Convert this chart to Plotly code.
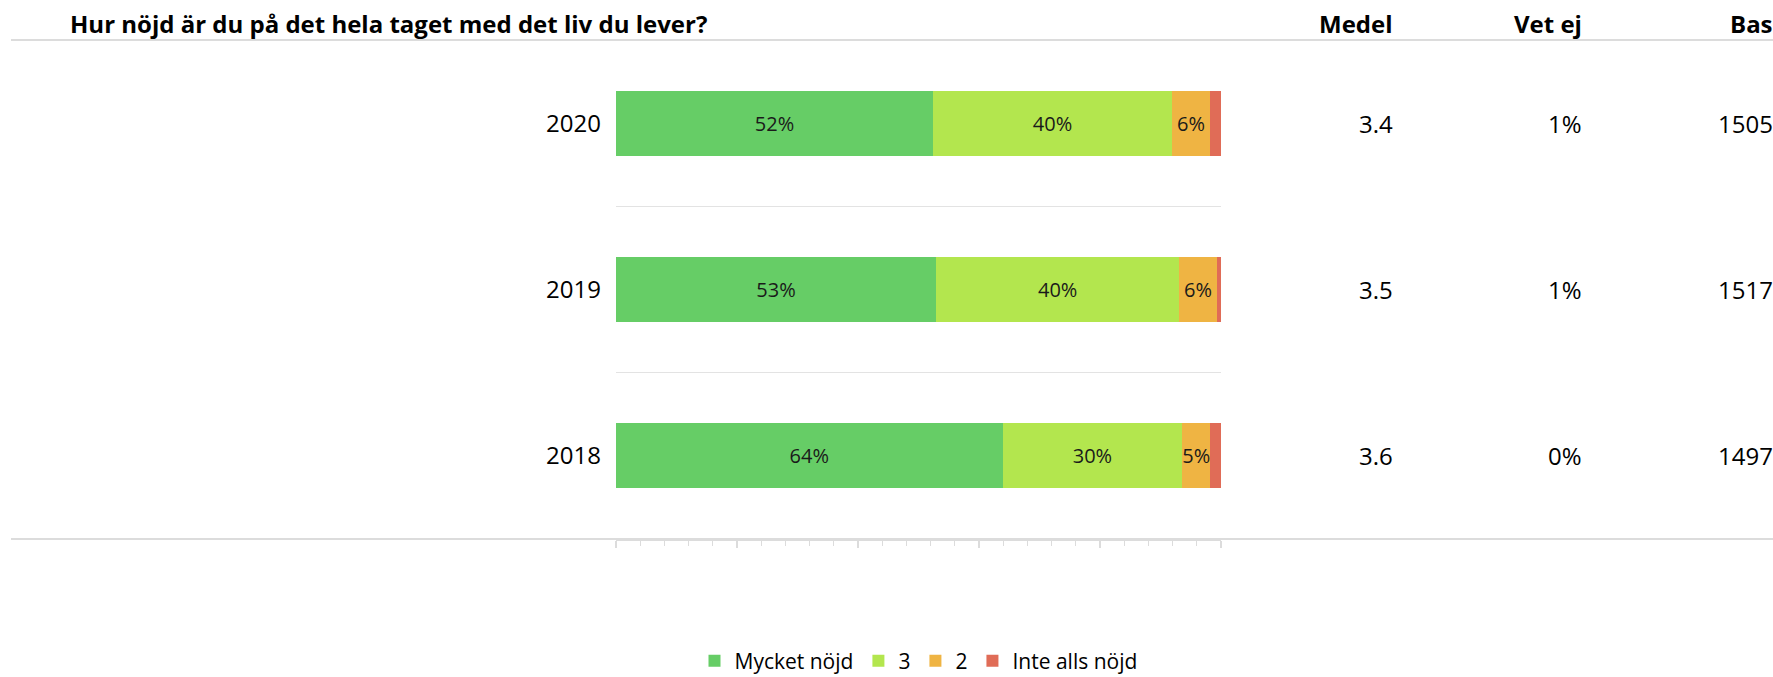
import plotly.graph_objects as go

# ---- data ----
title_text = "Hur nöjd är du på det hela taget med det liv du lever?"
years = ["2020", "2019", "2018"]
series_names = ["Mycket nöjd", "3", "2", "Inte alls nöjd"]
mycket_nojd = [52.4, 52.9, 63.9]
tre = [39.5, 40.2, 29.7]
tva = [6.3, 6.2, 4.6]
inte_alls = [1.8, 0.7, 1.8]
bar_labels = [
    ["52%", "53%", "64%"],
    ["40%", "40%", "30%"],
    ["6%", "6%", "5%"],
    ["", "", ""],
]
col_headers = ["Medel", "Vet ej", "Bas"]
medel = ["3.4", "3.5", "3.6"]
vet_ej = ["1%", "1%", "0%"]
bas = ["1505", "1517", "1497"]

colors = ["#66cd66", "#b3e64e", "#efb443", "#e06c57"]

# ---- layout geometry ----
W, H = 1773, 677
L, R, T, B = 616, 552, 40, 138
pw = W - L - R
ph = H - T - B

def px_to_xpaper(px):
    return (px - L) / pw

def px_to_ypaper(py):
    return (H - B - py) / ph

ypos = list(range(len(years) - 1, -1, -1))  # 2020 at top

fig = go.Figure()
for name, vals, labels, col in zip(series_names, [mycket_nojd, tre, tva, inte_alls], bar_labels, colors):
    fig.add_trace(go.Bar(
        x=vals, y=ypos, orientation="h", name=name,
        marker=dict(color=col, line=dict(width=0)),
        text=labels, textposition="inside", insidetextanchor="middle",
        textangle=0, constraintext="none",
        textfont=dict(family="Open Sans", size=20, color="#1a1a1a"),
        hoverinfo="skip",
    ))

annotations = []
annotations.append(dict(
    text=f"<b>{title_text}</b>", xref="paper", yref="paper",
    x=px_to_xpaper(68), y=px_to_ypaper(24), xanchor="left", yanchor="middle",
    showarrow=False, font=dict(family="Open Sans", size=24, color="#000000"),
))
col_right_px = [1395, 1584, 1775]
for hdr, xr in zip(col_headers, col_right_px):
    annotations.append(dict(
        text=f"<b>{hdr}</b>", xref="paper", yref="paper",
        x=px_to_xpaper(xr), y=px_to_ypaper(24), xanchor="right", yanchor="middle",
        showarrow=False, font=dict(family="Open Sans", size=24, color="#000000"),
    ))
for col_vals, xr in zip([medel, vet_ej, bas], col_right_px):
    for v, yp in zip(col_vals, ypos):
        annotations.append(dict(
            text=v, xref="paper", yref="y", x=px_to_xpaper(xr), y=yp,
            xanchor="right", yanchor="middle", showarrow=False,
            font=dict(family="Open Sans", size=24, color="#000000"),
        ))

shapes = [
    dict(type="line", xref="paper", yref="paper",
         x0=px_to_xpaper(11), x1=px_to_xpaper(W), y0=1.0, y1=1.0,
         line=dict(color="#dcdcdc", width=2)),
    dict(type="line", xref="paper", yref="paper",
         x0=px_to_xpaper(11), x1=px_to_xpaper(W), y0=0.0, y1=0.0,
         line=dict(color="#dcdcdc", width=2)),
]

fig.update_layout(
    width=W, height=H,
    margin=dict(l=L, r=R, t=T, b=B, pad=0, autoexpand=False),
    barmode="stack", bargap=0.61,
    paper_bgcolor="white", plot_bgcolor="white",
    font=dict(family="Open Sans", color="#000000"),
    showlegend=True,
    legend=dict(orientation="h", x=0.5, xanchor="center",
                y=px_to_ypaper(661), yanchor="middle", itemwidth=30,
                font=dict(family="Open Sans", size=21, color="#000000"),
                traceorder="normal", itemclick=False, itemdoubleclick=False),
    annotations=annotations,
    shapes=shapes,
    xaxis=dict(range=[0, 100], showgrid=False, zeroline=False, automargin=False,
               showticklabels=False, showline=True, linecolor="#dcdcdc", linewidth=2,
               ticks="outside", tick0=0, dtick=20, ticklen=7, tickcolor="#dcdcdc", tickwidth=2,
               minor=dict(ticks="outside", dtick=4, ticklen=5, tickcolor="#dcdcdc", tickwidth=1),
               fixedrange=True),
    xaxis2=dict(range=[0, 100], overlaying="x", anchor="y", side="bottom", matches="x",
                showgrid=False, zeroline=False, showticklabels=False, showline=False,
                ticks="inside", tick0=0, dtick=20, ticklen=6, tickcolor="#dcdcdc", tickwidth=2,
                fixedrange=True),
    yaxis=dict(range=[-0.5, len(years) - 0.5], tickvals=ypos, ticktext=years,
               showgrid=False, zeroline=False, showline=False, ticks="", automargin=False,
               ticklabelstandoff=14,
               tickfont=dict(family="Open Sans", size=24, color="#000000"),
               minor=dict(tickvals=[0.5, 1.5], showgrid=True, gridcolor="#e3e3e3", gridwidth=1, ticks=""),
               fixedrange=True),
)

fig.write_html("out.html", config={"displayModeBar": False},
               post_script="document.body.style.margin='0px';document.body.style.overflow='hidden';")
